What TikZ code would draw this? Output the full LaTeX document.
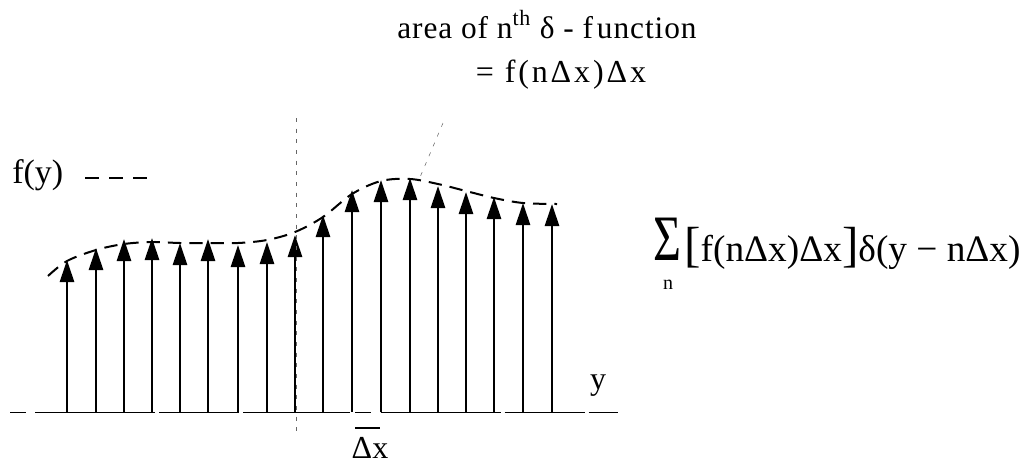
\documentclass[tikz,border=0pt]{standalone}
\usepackage{fontspec}
\setmainfont{Liberation Serif}
\newfontfamily\spacedfont[LetterSpace=9]{Liberation Serif}
\newfontfamily\widefont[LetterSpace=3]{Liberation Serif}
\usetikzlibrary{arrows.meta}

\begin{document}
\begin{tikzpicture}[x=0.75pt,y=-0.75pt,every node/.style={inner sep=0pt,font=\fontsize{23}{27}\selectfont},
  spike/.style={line width=2pt,-{Triangle[length=16.5pt,width=10.5pt]}},
  envelope/.style={line width=1.5pt,dash pattern=on 10pt off 6pt},
  guide/.style={black!60,line width=0.4pt,dash pattern=on 3pt off 5pt}]
\useasboundingbox (0,0) rectangle (1026,465);
% y axis line
\coordinate (axl) at (10,412);
\coordinate (axr) at (618,412);
\draw[line width=0.7pt,dash pattern=on 12pt off 7pt on 90pt off 3pt on 60pt off 3pt on 80pt off 4pt] (axl) -- (axr);
% delta spikes
\foreach \i/\x/\t in {1/67/260,2/96/248,3/124/239,4/152/238,5/180/243,6/208/239,
  7/238/245,8/267/242,9/295/235,10/323/215,11/352/190,12/381/180,
  13/410/178,14/438/186,15/466/192,16/494/197,17/523/203,18/552/204}{
  \coordinate (b\i) at (\x,412);
  \coordinate (t\i) at (\x,\t);
  \draw[spike] (b\i) -- (t\i);
}
% f(y) envelope
\draw[envelope] plot[smooth,tension=0.55] coordinates {(48,276) (67,261) (96,250) (124,244)
  (152,242) (180,243) (208,243) (238,243) (267,240) (295,232) (323,217) (352,194)
  (381,181) (410,179) (438,184) (466,191) (494,198) (523,203) (557,204)};
% legend
\node[anchor=base west,font=\fontsize{25.5}{30}\selectfont] (fy) at (12,183) {f(y)};
\coordinate (lg1) at (85,178);
\coordinate (lg2) at (149,178);
\draw[line width=1.5pt,dash pattern=on 10.5pt off 7.5pt] (lg1) -- (lg2);
% guides
\coordinate (v1) at (296,118);
\coordinate (v2) at (296,432);
\draw[guide] (v1) -- (v2);
\coordinate (ld1) at (443,123);
\coordinate (ld2) at (418,182);
\draw[guide] (ld1) -- (ld2);
% spacing mark
\coordinate (dx1) at (355,428);
\coordinate (dx2) at (380,428);
\draw[line width=1pt] (dx1) -- (dx2);
\node[anchor=base,font=\fontsize{24}{26}\selectfont] (dxl) at (370,458) {Δx};
\node[anchor=base,font=\fontsize{24}{26}\selectfont] (yl) at (598,389) {y};
% labels
\node[anchor=base,font=\fontsize{23.5}{27}\widefont] (area) at (547,38) {area of n\textsuperscript{th} δ - f\hspace{3pt}unction};
\node[anchor=base,font=\fontsize{24}{27}\spacedfont] (areav) at (561,82) {= f(nΔx)Δx};
% sum
\node[font=\fontsize{36}{36}\selectfont] (sig) at (667,239) {\scalebox{1}[1.35]{Σ}};
\node[font=\fontsize{15}{15}\selectfont] (sidx) at (668,285) {n};
\node[anchor=base west,font=\fontsize{28}{30}\selectfont] (sumt) at (684,261)
  {{\fontsize{37}{37}\selectfont[}f(nΔx)Δx{\fontsize{37}{37}\selectfont]}δ(y − nΔx)};
\end{tikzpicture}
\end{document}
